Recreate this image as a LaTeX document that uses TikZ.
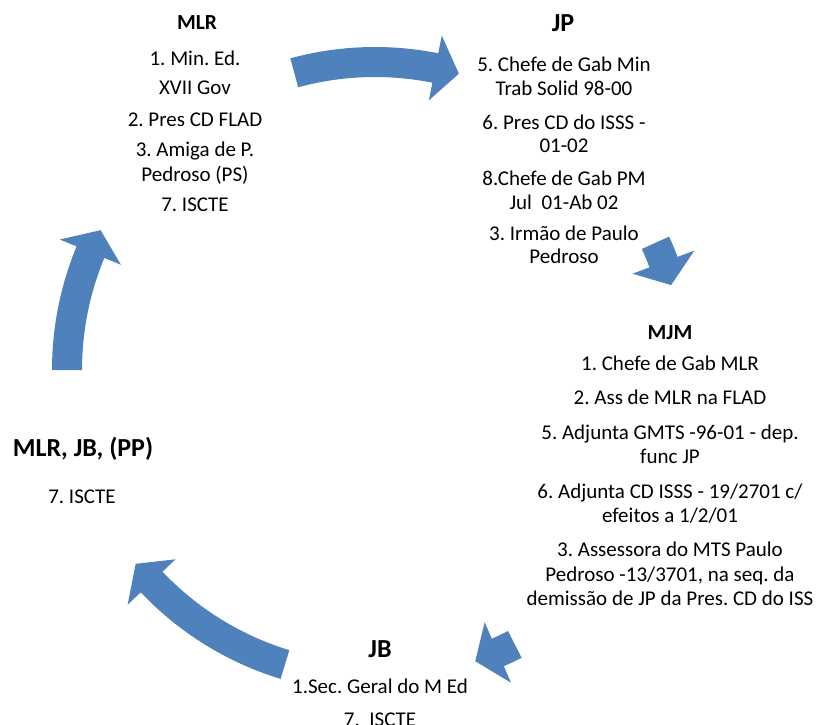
\documentclass[tikz,border=0pt]{standalone}
\usepackage{fontspec}
\setmainfont{Carlito}
\frenchspacing
\definecolor{arrowblue}{HTML}{4F81BD}
% cycle arrow: tail angle, head base angle, tip angle (math angles about the cycle centre)
\newcommand\cycarrow[3]{%
  \fill[arrowblue]
    plot[domain=#1:#2, samples=30] ({375+323*cos(\x)},{370-323*sin(\x)})
    -- ({375+341*cos(#2)},{370-341*sin(#2)})
    -- ({375+308*cos(#3)},{370-308*sin(#3)})
    -- ({375+275*cos(#2)},{370-275*sin(#2)})
    -- plot[domain=#2:#1, samples=30] ({375+293*cos(\x)},{370-293*sin(\x)})
    -- cycle;}
\begin{document}
\begin{tikzpicture}[x=1pt,y=-1pt,
  titlebig/.style={font=\fontsize{26}{30}\selectfont\bfseries, inner sep=0pt, anchor=base},
  titlesmall/.style={font=\fontsize{21.5}{25}\selectfont\bfseries, inner sep=0pt, anchor=base},
  bodytext/.style={font=\fontsize{21}{24.8}\selectfont, align=center, inner sep=0pt, anchor=north}]
\useasboundingbox (0,0) rectangle (819,725);
\clip (0,0) rectangle (819,725);
\fill[white] (0,0) rectangle (819,725);
\coordinate (centre) at (375,370);
% arrows
\cycarrow{180}{157.5}{153}
\cycarrow{105.2}{78.7}{74.2}
\cycarrow{24.4}{20.5}{16}
\cycarrow{-63}{-66.5}{-71}
\cycarrow{-107}{-136.5}{-141}
% MLR
\node[titlesmall] (mlrt) at (197,30) {MLR};
\node[bodytext, font=\fontsize{21}{25}\selectfont] (mlrb) at (195,47.7)
  {\rule{0pt}{18pt}1. Min. Ed.\\[3.6pt] XVII Gov\\[6.7pt] 2. Pres CD FLAD\\[5.7pt] 3. Amiga de P.\\ Pedroso (PS)\\[5pt] 7. ISCTE};
% JP
\node[titlebig] (jpt) at (563,31.7) {JP};
\node[bodytext, font=\fontsize{21}{23.5}\selectfont] (jpb) at (564,53.7)
  {\rule{0pt}{18pt}5. Chefe de Gab Min\\ Trab Solid 98-00\\[10.5pt] 6. Pres CD do ISSS -\\ 01-02\\[9.5pt] 8.Chefe de Gab PM\\ Jul~~01-Ab 02\\[7.5pt] 3. Irmão de Paulo\\ Pedroso};
% MJM
\node[titlesmall] (mjmt) at (670,339.3) {MJM};
\node[bodytext] (mjmb) at (670,352.7)
  {\rule{0pt}{18pt}1. Chefe de Gab MLR\\[8.5pt] 2. Ass de MLR na FLAD\\[10pt] 5. Adjunta GMTS -96-01 - dep.\\ func JP\\[9.5pt] 6. Adjunta CD ISSS - 19/2701 c/\\ efeitos a 1/2/01\\[8.5pt] 3. Assessora do MTS Paulo\\ Pedroso -13/3701, na seq. da\\ demissão de JP da Pres. CD do ISS};
% MLR, JB, (PP)
\node[titlebig] (leftt) at (83,456) {MLR, JB, (PP)};
\node[bodytext] (leftb) at (82,485) {\rule{0pt}{18pt}7. ISCTE};
% JB
\node[titlebig] (jbt) at (380,657) {JB};
\node[bodytext] (jbb) at (380,675)
  {\rule{0pt}{18pt}1.Sec. Geral do M Ed\\[8pt] 7.~~ISCTE};
\end{tikzpicture}
\end{document}
